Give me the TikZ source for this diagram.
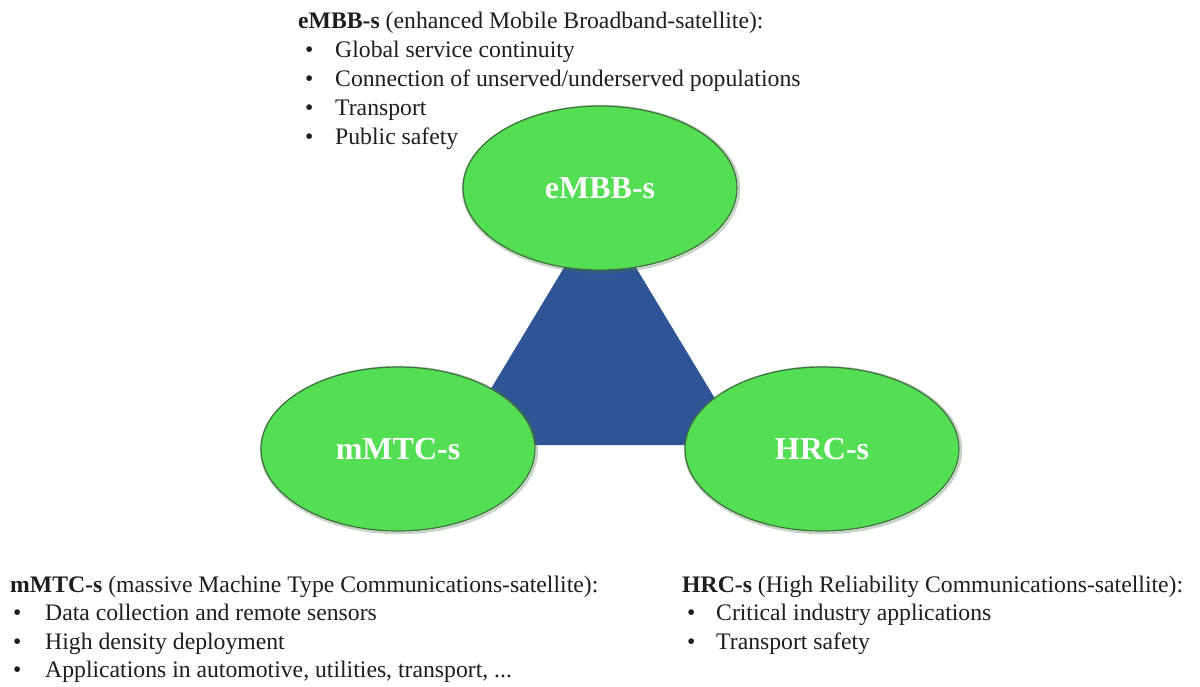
\documentclass[tikz,border=0pt]{standalone}
\usepackage{fontspec}
\setmainfont{Liberation Serif}
\usetikzlibrary{shapes.geometric}
\definecolor{ovalgreen}{RGB}{84,222,84}
\definecolor{ovaledge}{RGB}{62,112,62}
\definecolor{triblue}{RGB}{47,85,151}
\definecolor{txt}{RGB}{30,30,30}
\begin{document}
\begin{tikzpicture}[x=1pt,y=-1pt,
  oval/.style={ellipse, fill=ovalgreen, draw=ovaledge, line width=1.2pt,
    minimum width=274pt, minimum height=164pt, inner sep=0pt,
    text=white, font=\fontsize{32}{36}\selectfont\bfseries},
  halo/.style={ellipse, draw=ovaledge, line width=2.4pt, opacity=0.3,
    minimum width=276pt, minimum height=166pt, inner sep=0pt},
  tri/.style={fill=triblue},
  line/.style={anchor=base west, inner sep=0pt, text=txt,
    font=\fontsize{23.7}{29}\selectfont},
  bul/.style={anchor=base west, inner sep=0pt, text=txt,
    font=\fontsize{23.7}{29}\selectfont}
]
\useasboundingbox (0,0) rectangle (1200,686);
\fill[white] (0,0) rectangle (1200,686);

% triangle
\coordinate (tA) at (600,208);
\coordinate (tB) at (457,445);
\coordinate (tC) at (743,445);
\fill[tri] (tA) -- (tB) -- (tC) -- cycle;

% ovals
\node[halo] (h1) at (601,189) {};
\node[halo] (h2) at (399,450) {};
\node[halo] (h3) at (823,450) {};
\node[oval] (embb) at (600,188) {eMBB-s};
\node[oval] (mmtc) at (398,449) {mMTC-s};
\node[oval] (hrc) at (822,449) {HRC-s};

% top text block
\node[line] (th) at (298,28) {\textbf{eMBB-s} (enhanced Mobile Broadband-satellite):};
\node[bul] (tb1) at (305,57) {•};
\node[bul] (tb2) at (305,86) {•};
\node[bul] (tb3) at (305,115) {•};
\node[bul] (tb4) at (305,144) {•};
\node[line] (tl1) at (335,57) {Global service continuity};
\node[line] (tl2) at (335,86) {Connection of unserved/underserved populations};
\node[line] (tl3) at (335,115) {Transport};
\node[line] (tl4) at (335,144) {Public safety};

% bottom-left block
\node[line] (mh) at (10,592) {\textbf{mMTC-s} (massive Machine Type Communications-satellite):};
\node[bul] (mb1) at (13,620.5) {•};
\node[bul] (mb2) at (13,649) {•};
\node[bul] (mb3) at (13,677.5) {•};
\node[line] (ml1) at (45,620.5) {Data collection and remote sensors};
\node[line] (ml2) at (45,649) {High density deployment};
\node[line] (ml3) at (45,677.5) {Applications in automotive, utilities, transport, ...};

% bottom-right block
\node[line] (hh) at (682,592) {\textbf{HRC-s} (High Reliability Communications-satellite):};
\node[bul] (hb1) at (687,620.5) {•};
\node[bul] (hb2) at (687,649) {•};
\node[line] (hl1) at (716,620.5) {Critical industry applications};
\node[line] (hl2) at (716,649) {Transport safety};
\end{tikzpicture}
\end{document}
